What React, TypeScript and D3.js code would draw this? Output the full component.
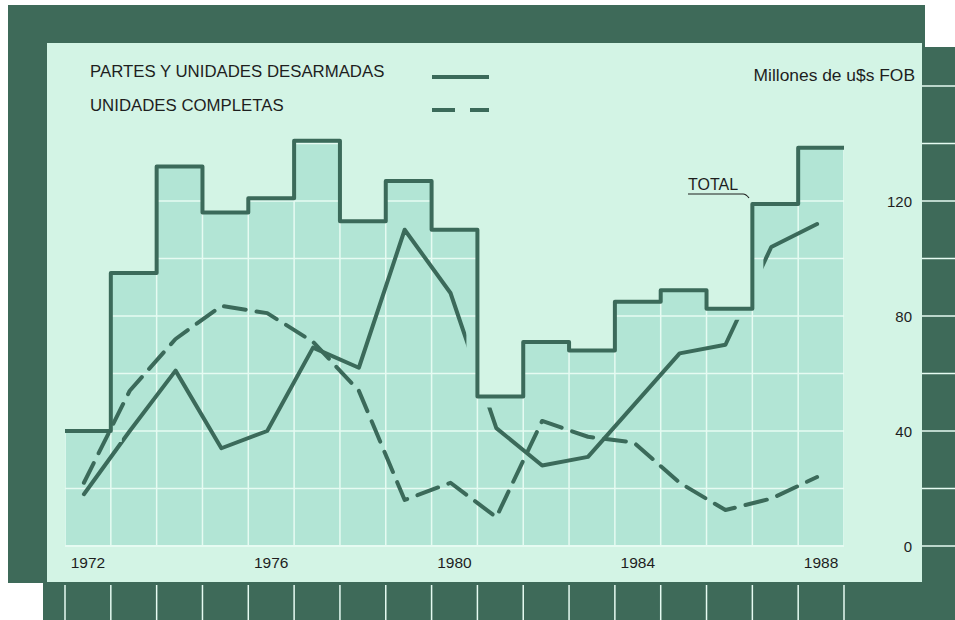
import React from "react";
import * as d3 from "d3";

const years = [1972, 1973, 1974, 1975, 1976, 1977, 1978, 1979, 1980, 1981, 1982, 1983, 1984, 1985, 1986, 1987, 1988];
const total = [40, 95, 132, 116, 121, 141, 113, 127, 110, 52, 71, 68, 85, 89, 82.5, 119, 138.5];
const partes = [18, 40, 61, 34, 40, 69, 62, 110, 88, 41, 28, 31, 49, 67, 70, 104, 112];
const completas = [22, 54, 72, 83.5, 81, 71, 54, 16, 22, 10, 43.5, 38, 36, 22, 12.5, 16.5, 24];
const yTicks = [0, 40, 80, 120];
const gridVals = [20, 40, 60, 80, 100, 120, 140];
const stripVals = [0, 20, 40, 60, 80, 100, 120, 140, 160];
const yearLabels = [1972, 1976, 1980, 1984, 1988];
const legendLabels = ["PARTES Y UNIDADES DESARMADAS", "UNIDADES COMPLETAS"];
const unitLabel = "Millones de u$s FOB";
const totalLabel = "TOTAL";

const DARK = "#3e6a59";
const LINE = "#3b6a5a";
const PANEL = "#d3f4e5";
const BAR = "#b2e5d5";
const GRID = "#e6fbf2";
const TEXT = "#1e1e1e";
const FONT = "'Liberation Sans', Arial, Helvetica, sans-serif";

export default function App() {
  const W = 955, H = 620;
  const x = d3.scaleBand<number>().domain(years).range([65, 844]).paddingInner(0).paddingOuter(0);
  const bw = x.bandwidth();
  const y = d3.scaleLinear().domain([0, 160]).range([546, 86]);
  const cx = (yr: number) => (x(yr) as number) + bw / 2;

  const stepPts: [number, number][] = [];
  years.forEach((yr, i) => {
    stepPts.push([x(yr) as number, y(total[i])]);
    stepPts.push([(x(yr) as number) + bw, y(total[i])]);
  });
  const stepPath = d3.line()(stepPts) || "";

  const solidPath = d3.line<number>().x((_, i) => cx(years[i])).y((d) => y(d)).curve(d3.curveLinear)(partes) || "";
  const dashPath = d3.line<number>().x((_, i) => cx(years[i])).y((d) => y(d)).curve(d3.curveLinear)(completas) || "";

  const boundaries = d3.range(years.length + 1).map((i) => 65 + i * bw);

  return (
    <div style={{ position: "absolute", left: 0, top: 0 }}>
      <svg width={W} height={H} viewBox={`0 0 ${W} ${H}`} style={{ display: "block", background: "#ffffff" }}>
        <defs>
          <clipPath id="barsClip">
            {years.map((yr, i) => (
              <rect key={yr} x={x(yr)} y={y(total[i])} width={bw} height={y(0) - y(total[i])} />
            ))}
          </clipPath>
          <mask id="gapMask" maskUnits="userSpaceOnUse" x={0} y={0} width={W} height={H}>
            <rect x={0} y={0} width={W} height={H} fill="white" />
            <path d={stepPath} stroke="black" strokeWidth={22} fill="none" />
          </mask>
        </defs>

        {/* frames */}
        <rect x={8} y={5} width={917} height={578} fill={DARK} />
        <rect x={922} y={47} width={33} height={573} fill={DARK} />
        <rect x={43} y={582} width={912} height={38} fill={DARK} />
        <rect x={47} y={43} width={875} height={539} fill={PANEL} />

        {/* right strip lines */}
        {stripVals.map((v) => (
          <line key={v} x1={922} x2={955} y1={y(v)} y2={y(v)} stroke={GRID} strokeWidth={1.5} />
        ))}
        {/* bottom strip ticks */}
        {boundaries.map((bx, i) => (
          <line key={i} x1={bx} x2={bx} y1={585} y2={620} stroke={GRID} strokeWidth={1.5} />
        ))}

        {/* bars */}
        {years.map((yr, i) => (
          <rect key={yr} x={x(yr)} y={y(total[i])} width={bw} height={y(0) - y(total[i])} fill={BAR} />
        ))}
        <g clipPath="url(#barsClip)">
          {gridVals.map((v) => (
            <line key={v} x1={65} x2={844} y1={y(v)} y2={y(v)} stroke={GRID} strokeWidth={1.5} />
          ))}
          {boundaries.map((bx, i) => (
            <line key={i} x1={bx} x2={bx} y1={y(0)} y2={y(160)} stroke={GRID} strokeWidth={1.5} />
          ))}
        </g>
        <line x1={65} x2={844} y1={y(0)} y2={y(0)} stroke={GRID} strokeWidth={2} />

        {/* total step */}
        <path d={stepPath} fill="none" stroke={LINE} strokeWidth={4} strokeLinejoin="round" />

        {/* series lines */}
        <g transform="translate(-4,0)">
          <path d={dashPath} fill="none" stroke={LINE} strokeWidth={4} strokeDasharray="22 11" strokeLinecap="round" strokeLinejoin="round" />
        </g>
        <g mask="url(#gapMask)">
          <g transform="translate(-4,0)">
            <path d={solidPath} fill="none" stroke={LINE} strokeWidth={4} strokeLinejoin="round" strokeLinecap="round" />
          </g>
        </g>

        {/* legend */}
        <text x={90} y={77} fontFamily={FONT} fontSize={16.8} fill={TEXT}>{legendLabels[0]}</text>
        <text x={90} y={111} fontFamily={FONT} fontSize={16.8} fill={TEXT}>{legendLabels[1]}</text>
        <line x1={432} x2={489} y1={77} y2={77} stroke={LINE} strokeWidth={4} />
        <line x1={432} x2={489} y1={110} y2={110} stroke={LINE} strokeWidth={4} strokeDasharray="23 15" />

        <text x={915} y={81} textAnchor="end" fontFamily={FONT} fontSize={17.4} fill={TEXT}>{unitLabel}</text>

        {/* TOTAL label */}
        <text x={688} y={190} fontFamily={FONT} fontSize={16} fill={TEXT}>{totalLabel}</text>
        <path d="M688,194 L743,194 Q746,194 749,198" fill="none" stroke={TEXT} strokeWidth={1.2} />

        {/* right axis labels */}
        {yTicks.map((v) => (
          <text key={v} x={912} y={y(v) + 5.5} textAnchor="end" fontFamily={FONT} fontSize={15} fill={TEXT}>{v}</text>
        ))}

        {/* year labels */}
        {yearLabels.map((yr) => (
          <text key={yr} x={cx(yr)} y={568} textAnchor="middle" fontFamily={FONT} fontSize={15.5} fill={TEXT}>{yr}</text>
        ))}
      </svg>
    </div>
  );
}
